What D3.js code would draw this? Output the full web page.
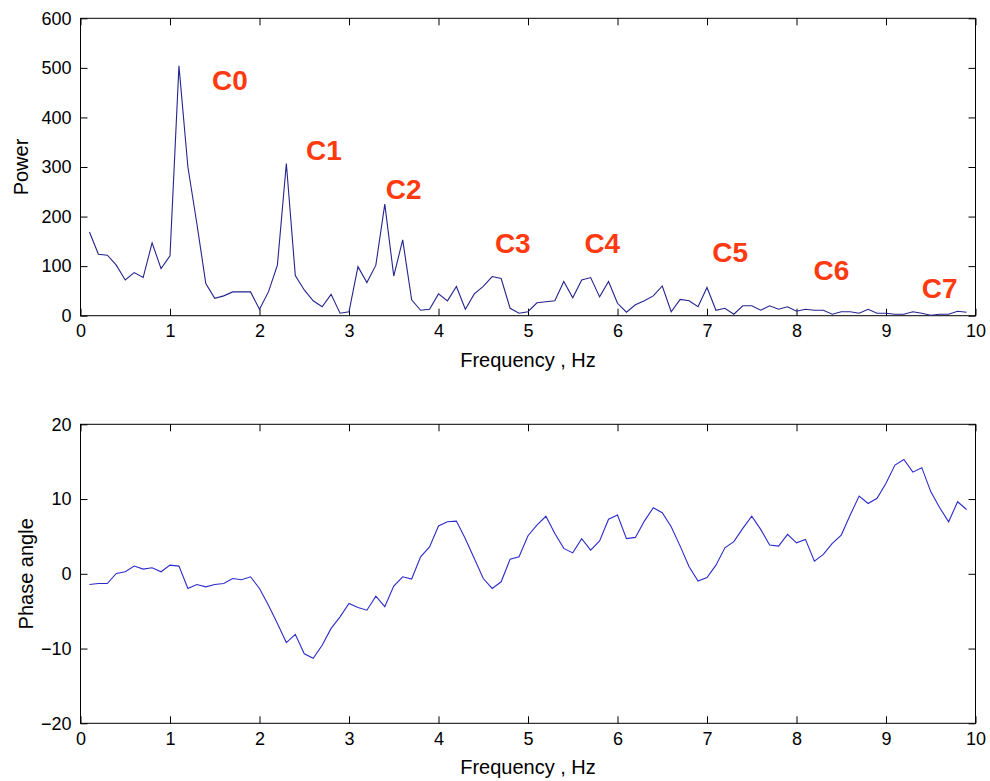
<!DOCTYPE html>
<html>
<head>
<meta charset="utf-8">
<script src="https://cdn.jsdelivr.net/npm/d3@7"></script>
<style>
  body { margin: 0; background: #fff; }
  svg { display: block; }
  .tick line { stroke: #000; }
  .tick text { font-family: "Liberation Sans", Arial, sans-serif; font-size: 18px; fill: #000; }
  .label { font-family: "Liberation Sans", Arial, sans-serif; font-size: 20px; fill: #000; }
  .peak { font-family: "Liberation Sans", Arial, sans-serif; font-size: 28px; font-weight: bold; fill: #ff3a10; }
</style>
</head>
<body>
<div id="chart"></div>
<script>
// frequency grid, Hz
var freq = [0.1,0.2,0.3,0.4,0.5,0.6,0.7,0.8,0.9,1.0,
            1.1,1.2,1.3,1.4,1.5,1.6,1.7,1.8,1.9,2.0,
            2.1,2.2,2.3,2.4,2.5,2.6,2.7,2.8,2.9,3.0,
            3.1,3.2,3.3,3.4,3.5,3.6,3.7,3.8,3.9,4.0,
            4.1,4.2,4.3,4.4,4.5,4.6,4.7,4.8,4.9,5.0,
            5.1,5.2,5.3,5.4,5.5,5.6,5.7,5.8,5.9,6.0,
            6.1,6.2,6.3,6.4,6.5,6.6,6.7,6.8,6.9,7.0,
            7.1,7.2,7.3,7.4,7.5,7.6,7.7,7.8,7.9,8.0,
            8.1,8.2,8.3,8.4,8.5,8.6,8.7,8.8,8.9,9.0,
            9.1,9.2,9.3,9.4,9.5,9.6,9.7,9.8,9.9];

var power = [169,124,122,102,72,87,77,147,95,121,
             504,300,186,65,35,40,48,48,48,13,
             48,102,307,81,52,30,18,43,5,8,
             99,67,102,225,80,153,32,11,13,44,
             30,59,13,44,59,79,75,15,5,8,
             26,28,30,69,36,72,77,38,69,25,
             7,22,30,40,60,8,33,30,18,57,
             11,15,3,20,20,11,20,13,18,9,
             13,11,11,3,8,8,5,13,5,5,
             3,3,8,5,1,3,3,9,7];

var phase = [-1.43,-1.3,-1.3,0.05,0.27,1.03,0.63,0.8,0.27,1.16,
             1.03,-1.96,-1.43,-1.74,-1.43,-1.3,-0.63,-0.8,-0.4,-1.96,
             -4.2,-6.65,-9.2,-8.1,-10.7,-11.3,-9.55,-7.3,-5.76,-3.97,
             -4.5,-4.87,-3.0,-4.4,-1.65,-0.4,-0.7,2.28,3.6,6.4,
             6.96,7.05,4.7,2.05,-0.63,-1.96,-1.07,1.96,2.28,5.1,
             6.5,7.7,5.4,3.4,2.8,4.7,3.17,4.4,7.3,7.86,
             4.7,4.87,7.05,8.84,8.17,6.3,3.7,0.94,-0.98,-0.5,
             1.16,3.48,4.3,6.07,7.7,5.94,3.84,3.7,5.27,4.15,
             4.6,1.7,2.6,4.06,5.18,7.86,10.4,9.4,10.1,12.1,
             14.55,15.3,13.6,14.2,11.0,8.84,6.96,9.64,8.6];

var xTicks = [0,1,2,3,4,5,6,7,8,9,10];
var powerTicks = [0,100,200,300,400,500,600];
var phaseTicks = [-20,-10,0,10,20];

// harmonic labels, anchored at (freq, power)
var peakNames = ["C0","C1","C2","C3","C4","C5","C6","C7"];
var peakFreq  = [1.47,2.52,3.41,4.63,5.63,7.06,8.19,9.40];
var peakPower = [455,314,236,127,126,108,72,36];

var W = 990, H = 781;
var left = 80.5, right = 975.5;

var svg = d3.select("#chart").append("svg")
    .attr("width", W)
    .attr("height", H);

var x = d3.scaleLinear().domain([0, 10]).range([left, right]);

function panel(top, bottom, yDomain, yTickVals, values, yTitle, titleX, lineColor) {
  var y = d3.scaleLinear().domain(yDomain).range([bottom, top]);
  var g = svg.append("g");

  // ticks inside the box on all four sides
  g.append("g")
    .attr("transform", "translate(0," + bottom + ")")
    .call(d3.axisBottom(x).tickValues(xTicks).tickSize(-7).tickSizeOuter(0).tickPadding(9))
    .call(function(a) { a.select(".domain").remove(); });

  g.append("g")
    .attr("transform", "translate(0," + top + ")")
    .call(d3.axisTop(x).tickValues(xTicks).tickSize(-7).tickSizeOuter(0).tickFormat(""))
    .call(function(a) { a.select(".domain").remove(); });

  g.append("g")
    .attr("transform", "translate(" + left + ",0)")
    .call(d3.axisLeft(y).tickValues(yTickVals).tickSize(-7).tickSizeOuter(0).tickPadding(9))
    .call(function(a) { a.select(".domain").remove(); });

  g.append("g")
    .attr("transform", "translate(" + right + ",0)")
    .call(d3.axisRight(y).tickValues(yTickVals).tickSize(-7).tickSizeOuter(0).tickFormat(""))
    .call(function(a) { a.select(".domain").remove(); });

  g.append("rect")
    .attr("x", left).attr("y", top)
    .attr("width", right - left).attr("height", bottom - top)
    .attr("fill", "none").attr("stroke", "#000").attr("stroke-width", 1);

  var line = d3.line()
    .x(function(d, i) { return x(freq[i]); })
    .y(function(d) { return y(d); });

  g.append("path")
    .datum(values)
    .attr("d", line)
    .attr("fill", "none")
    .attr("stroke", lineColor)
    .attr("stroke-width", 1.1);

  g.append("text")
    .attr("class", "label")
    .attr("x", (left + right) / 2)
    .attr("y", bottom + 51)
    .attr("text-anchor", "middle")
    .text("Frequency , Hz");

  g.append("text")
    .attr("class", "label")
    .attr("transform", "translate(" + titleX + "," + ((top + bottom) / 2) + ") rotate(-90)")
    .attr("text-anchor", "middle")
    .text(yTitle);

  return y;
}

var yPow = panel(18.3, 315.7, [0, 600], powerTicks, power, "Power", 28, "#24248e");
panel(424.3, 723.3, [-20, 20], phaseTicks, phase, "Phase angle", 33, "#2b2bcc");

svg.selectAll(".peak")
  .data(peakNames)
  .enter().append("text")
    .attr("class", "peak")
    .attr("x", function(d, i) { return x(peakFreq[i]); })
    .attr("y", function(d, i) { return yPow(peakPower[i]); })
    .text(function(d) { return d; });
</script>
</body>
</html>
